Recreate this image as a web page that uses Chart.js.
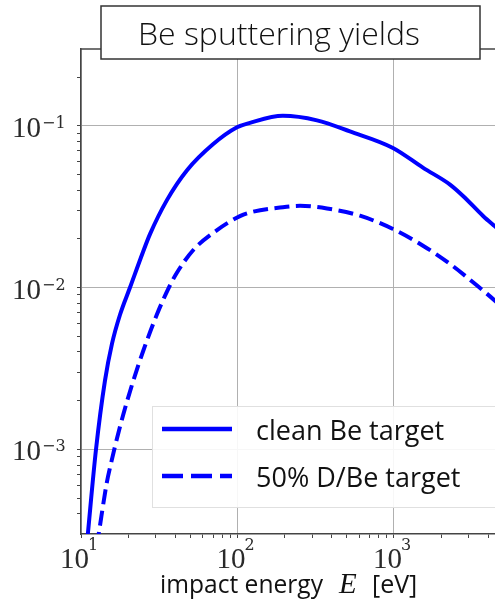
<!DOCTYPE html>
<html>
<head>
<meta charset="utf-8">
<script src="https://cdn.jsdelivr.net/npm/chart.js@4.4.1/dist/chart.umd.min.js"></script>
<style>
  body { margin: 0; background: #fff; }
  #wrap { width: 495px; height: 610px; }
</style>
</head>
<body>
<div id="wrap"><canvas id="yieldChart" width="495" height="610"></canvas></div>
<script>
// values (energy in eV, yield in atoms/ion)
const cleanEnergy = [10.87, 11.09, 12.47, 14.23, 15.78, 17.75, 20.56, 24.9, 27.6, 35.4, 47.6, 69.7, 99.3, 120, 195, 322, 523, 985, 1538, 2280, 2773, 3723, 4415, 4600];
const cleanYield = [2.5e-4, 3.08e-4, 1.0e-3, 2.66e-3, 4.5e-3, 6.79e-3, 0.0100, 0.0166, 0.0214, 0.0347, 0.0531, 0.0768, 0.0978, 0.1042, 0.1151, 0.1079, 0.0922, 0.0729, 0.0549, 0.0433, 0.0367, 0.0276, 0.0239, 0.0231];

const mixEnergy = [12.6, 13.03, 14.59, 15.71, 16.49, 18.63, 21.59, 25.0, 30.5, 36.1, 40.9, 52.2, 74, 103.7, 120, 195, 251, 373, 606, 985, 1532, 2280, 3394, 4415, 4600];
const mixYield = [2.5e-4, 3.08e-4, 6.17e-4, 8.55e-4, 1.043e-3, 1.643e-3, 2.66e-3, 4.07e-3, 6.79e-3, 9.82e-3, 0.0123, 0.01707, 0.02267, 0.02765, 0.0291, 0.0314, 0.0320, 0.0308, 0.0278, 0.0230, 0.01815, 0.0140, 0.01029, 0.0083, 0.0080];

const seriesNames = ["clean Be target", "50% D/Be target"];
const titleText = "Be sputtering yields";

const xMajorTicks = [10, 100, 1000];
const xTickExp = ["1", "2", "3"];
const yMajorTicks = [1e-3, 1e-2, 1e-1];
const yTickExp = ["\u22123", "\u22122", "\u22121"];

const xMin = 10, xMax = 4420;
const yMin = 3.07e-4, yMax = 0.298;

function toPoints(xs, ys) {
  return xs.map((x, i) => ({ x: x, y: ys[i] }));
}

// 1..9 x 10^n between min and max
function logTicks(min, max) {
  const out = [];
  for (let e = Math.floor(Math.log10(min)); e <= Math.ceil(Math.log10(max)); e++) {
    for (let m = 1; m < 10; m++) {
      const v = +(m * Math.pow(10, e)).toPrecision(6);
      if (v >= min && v <= max) out.push({ value: v });
    }
  }
  return out;
}

function isMajor(v) {
  const l = Math.log10(v);
  return Math.abs(l - Math.round(l)) < 1e-6;
}

const overlay = {
  id: "overlay",
  afterDraw(chart) {
    const ctx = chart.ctx;
    const area = chart.chartArea;
    const xs = chart.scales.x;
    const ys = chart.scales.y;
    ctx.save();

    // top spine
    ctx.strokeStyle = "#444";
    ctx.lineWidth = 1.5;
    ctx.beginPath();
    ctx.moveTo(area.left, area.top);
    ctx.lineTo(area.right, area.top);
    ctx.stroke();

    // tick labels 10^n
    ctx.fillStyle = "#2a2a2a";
    ctx.textBaseline = "alphabetic";
    yMajorTicks.forEach((v, i) => {
      const py = ys.getPixelForValue(v);
      ctx.font = '29px "Liberation Serif"';
      ctx.textAlign = "right";
      ctx.fillText("10", 41, py + 11);
      ctx.font = '16px "DejaVu Serif"';
      ctx.textAlign = "left";
      ctx.fillText(yTickExp[i], 42, py + 2);
    });
    xMajorTicks.forEach((v, i) => {
      const px = xs.getPixelForValue(v);
      ctx.font = '29px "Liberation Serif"';
      ctx.textAlign = "left";
      ctx.fillText("10", px - 21, 568);
      ctx.font = '16px "DejaVu Serif"';
      ctx.fillText(xTickExp[i], px + 7, 550);
    });

    // axis label
    ctx.fillStyle = "#111";
    ctx.textAlign = "left";
    ctx.font = '25px "Open Sans"';
    ctx.fillText("impact energy", 160, 593, 163);
    ctx.font = 'italic 29px "Liberation Serif"';
    ctx.fillText("E", 339, 593);
    ctx.font = '25px "Open Sans"';
    ctx.fillText("[eV]", 372, 593, 47);

    // legend
    ctx.fillStyle = "rgba(255,255,255,0.9)";
    ctx.fillRect(152, 406, 360, 101);
    ctx.strokeStyle = "#e0e0e0";
    ctx.lineWidth = 1;
    ctx.strokeRect(152.5, 406.5, 360, 101);
    const rows = [429, 476];
    chart.data.datasets.forEach((ds, i) => {
      ctx.strokeStyle = ds.borderColor;
      ctx.lineWidth = ds.borderWidth + 0.5;
      ctx.lineCap = "butt";
      ctx.setLineDash(i === 0 ? [] : [21, 8]);
      ctx.beginPath();
      ctx.moveTo(162, rows[i]);
      ctx.lineTo(232, rows[i]);
      ctx.stroke();
      ctx.setLineDash([]);
      ctx.fillStyle = "#111";
      ctx.font = '27px "Open Sans"';
      ctx.fillText(ds.label, 256, rows[i] + 11, i === 0 ? 192 : 222);
    });

    // title box
    ctx.fillStyle = "#fff";
    ctx.fillRect(101, 6, 379, 53);
    ctx.strokeStyle = "#333";
    ctx.lineWidth = 1.5;
    ctx.strokeRect(101, 6, 379, 53);
    ctx.fillStyle = "#111";
    ctx.font = '300 32px "Open Sans"';
    ctx.textAlign = "center";
    ctx.fillText(titleText, 279, 45, 285);

    ctx.restore();
  }
};

const ctx = document.getElementById("yieldChart").getContext("2d");
new Chart(ctx, {
  type: "line",
  data: {
    datasets: [
      {
        label: seriesNames[0],
        data: toPoints(cleanEnergy, cleanYield),
        borderColor: "#0000ff",
        borderWidth: 4,
        pointRadius: 0,
        cubicInterpolationMode: "monotone",
        fill: false,
      },
      {
        label: seriesNames[1],
        data: toPoints(mixEnergy, mixYield),
        borderColor: "#0000ff",
        borderWidth: 4,
        borderDash: [15, 6.5],
        pointRadius: 0,
        cubicInterpolationMode: "monotone",
        fill: false,
      },
    ],
  },
  options: {
    responsive: false,
    animation: false,
    layout: { padding: { top: 49, left: 0, right: 0, bottom: 0 } },
    plugins: {
      legend: { display: false },
      tooltip: { enabled: false },
    },
    scales: {
      x: {
        type: "logarithmic",
        min: xMin,
        max: xMax,
        afterBuildTicks: (s) => { s.ticks = logTicks(xMin, xMax); },
        afterFit: (s) => { s.height = 76; },
        ticks: { display: false },
        border: { display: true, color: "#444", width: 1.5 },
        grid: {
          color: (c) => (c.tick && isMajor(c.tick.value) ? "#b0b0b0" : "rgba(0,0,0,0)"),
          tickColor: "#444",
          tickLength: 4,
          lineWidth: 1,
        },
      },
      y: {
        type: "logarithmic",
        min: yMin,
        max: yMax,
        afterBuildTicks: (s) => { s.ticks = logTicks(yMin, yMax); },
        afterFit: (s) => { s.width = 81; },
        ticks: { display: false },
        border: { display: true, color: "#444", width: 1.5 },
        grid: {
          color: (c) => (c.tick && isMajor(c.tick.value) ? "#b0b0b0" : "rgba(0,0,0,0)"),
          tickColor: "#444",
          tickLength: 4,
          lineWidth: 1,
        },
      },
    },
  },
  plugins: [overlay],
});
</script>
</body>
</html>
